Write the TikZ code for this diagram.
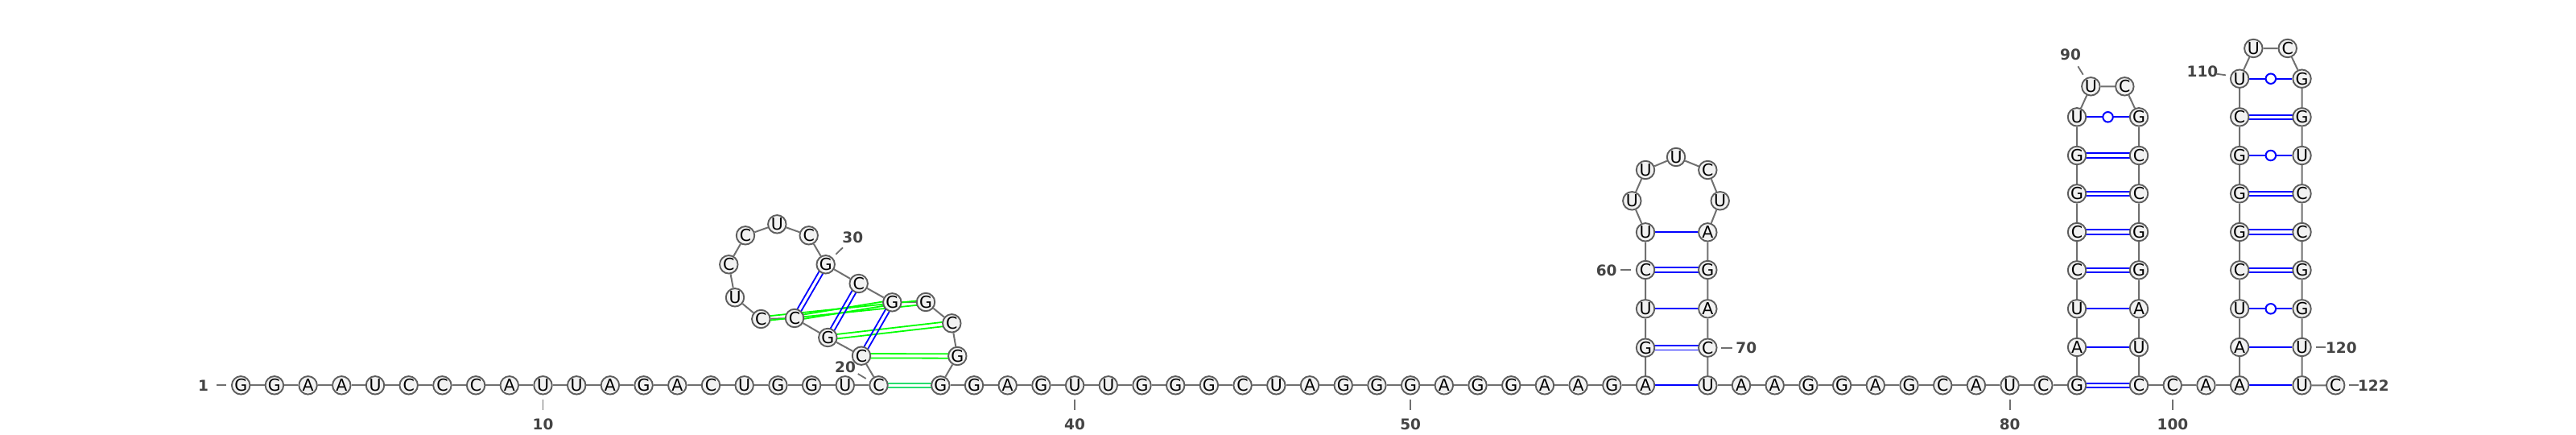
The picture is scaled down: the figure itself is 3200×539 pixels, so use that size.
\documentclass[tikz,border=0pt]{standalone}
\usepackage{fontspec}
\setmainfont{DejaVu Sans}
\newfontfamily\numfont{DejaVu Sans Bold}
\usetikzlibrary{calc}
\pgfdeclarelayer{bonds}
\pgfsetlayers{bonds,main}
\definecolor{basefill}{HTML}{F2F2F2}
\definecolor{baseline}{HTML}{5E5E5E}
\definecolor{backbone}{HTML}{707070}
\definecolor{numtext}{HTML}{444444}
\definecolor{pkgreen}{RGB}{0,255,0}
\definecolor{pkteal}{RGB}{40,220,110}
\tikzset{
	base/.style={circle,draw=baseline,fill=basefill,line width=1.9pt,minimum size=22.5pt,inner sep=0pt,font=\fontsize{20.5}{21}\selectfont},
	chain/.style={draw=backbone,line width=2pt},
	auline/.style={draw=blue,line width=2pt},
	wobble/.style={circle,draw=blue,fill=white,line width=2pt,minimum size=12.5pt,inner sep=0pt},
	num/.style={text=numtext,inner sep=0pt,font=\numfont\fontsize{18.5}{20}\selectfont},
	tick/.style={draw=backbone,line width=1.8pt},
}
\newcommand{\twolines}[3]{\draw[draw=#3,line width=1.8pt] ($(#1)!2.7pt!90:(#2)$)--($(#2)!2.7pt!-90:(#1)$); \draw[draw=#3,line width=1.8pt] ($(#1)!2.7pt!-90:(#2)$)--($(#2)!2.7pt!90:(#1)$);}

\begin{document}
\begin{tikzpicture}[x=1pt,y=-1pt]
	\useasboundingbox (0,0) rectangle (3200,539);
	% 5' strand up to the first loop
	\node[base] (n1) at (299.2,478.3) {G};
	\node[base] (n2) at (340.9,478.3) {G};
	\node[base] (n3) at (382.6,478.3) {A};
	\node[base] (n4) at (424.3,478.3) {A};
	\node[base] (n5) at (466,478.3) {U};
	\node[base] (n6) at (507.7,478.3) {C};
	\node[base] (n7) at (549.4,478.3) {C};
	\node[base] (n8) at (591.1,478.3) {C};
	\node[base] (n9) at (632.8,478.3) {A};
	\node[base] (n10) at (674.5,478.3) {U};
	\node[base] (n11) at (716.2,478.3) {U};
	\node[base] (n12) at (757.9,478.3) {A};
	\node[base] (n13) at (799.6,478.3) {G};
	\node[base] (n14) at (841.3,478.3) {A};
	\node[base] (n15) at (883,478.3) {C};
	\node[base] (n16) at (924.7,478.3) {U};
	\node[base] (n17) at (966.4,478.3) {G};
	\node[base] (n18) at (1008.1,478.3) {G};
	\node[base] (n19) at (1049.8,478.3) {U};
	\node[base] (n20) at (1091.5,478.3) {C};
	%
	\node[base] (n21) at (1070,441.7) {C};
	\node[base] (n22) at (1028.3,419) {G};
	\node[base] (n23) at (987,395) {C};
	\node[base] (n24) at (945.3,396) {C};
	\node[base] (n25) at (913,369.3) {U};
	\node[base] (n26) at (905.3,328.3) {C};
	\node[base] (n27) at (926,292.3) {C};
	\node[base] (n28) at (965.3,278.3) {U};
	\node[base] (n29) at (1004.7,292.3) {C};
	\node[base] (n30) at (1025.7,328.3) {G};
	\node[base] (n31) at (1066.7,352) {C};
	\node[base] (n32) at (1108.3,375.3) {G};
	\node[base] (n33) at (1150,375) {G};
	\node[base] (n34) at (1182.3,401.3) {C};
	\node[base] (n35) at (1189.3,442) {G};
	\node[base] (n36) at (1168.3,478.3) {G};
	%
	\node[base] (n37) at (1210,478.3) {G};
	\node[base] (n38) at (1251.7,478.3) {A};
	\node[base] (n39) at (1293.4,478.3) {G};
	\node[base] (n40) at (1335.1,478.3) {U};
	\node[base] (n41) at (1376.8,478.3) {U};
	\node[base] (n42) at (1418.5,478.3) {G};
	\node[base] (n43) at (1460.2,478.3) {G};
	\node[base] (n44) at (1501.9,478.3) {G};
	\node[base] (n45) at (1543.6,478.3) {C};
	\node[base] (n46) at (1585.3,478.3) {U};
	\node[base] (n47) at (1627,478.3) {A};
	\node[base] (n48) at (1668.7,478.3) {G};
	\node[base] (n49) at (1710.4,478.3) {G};
	\node[base] (n50) at (1752.1,478.3) {G};
	\node[base] (n51) at (1793.8,478.3) {A};
	\node[base] (n52) at (1835.5,478.3) {G};
	\node[base] (n53) at (1877.2,478.3) {G};
	\node[base] (n54) at (1918.9,478.3) {A};
	\node[base] (n55) at (1960.6,478.3) {A};
	\node[base] (n56) at (2002.3,478.3) {G};
	\node[base] (n57) at (2044,478.3) {A};
	%
	\node[base] (n58) at (2044,431.7) {G};
	\node[base] (n59) at (2044,383.3) {U};
	\node[base] (n60) at (2044,335) {C};
	\node[base] (n61) at (2044,288.3) {U};
	\node[base] (n62) at (2027.3,249.3) {U};
	\node[base] (n63) at (2044,211) {U};
	\node[base] (n64) at (2082,195) {U};
	\node[base] (n65) at (2121.3,211) {C};
	\node[base] (n66) at (2136.7,249.3) {U};
	\node[base] (n67) at (2121.3,288.3) {A};
	\node[base] (n68) at (2121.3,335) {G};
	\node[base] (n69) at (2121.3,383.3) {A};
	\node[base] (n70) at (2121.3,431.7) {C};
	\node[base] (n71) at (2121.3,478.3) {U};
	%
	\node[base] (n72) at (2163,478.3) {A};
	\node[base] (n73) at (2204.7,478.3) {A};
	\node[base] (n74) at (2246.4,478.3) {G};
	\node[base] (n75) at (2288.1,478.3) {G};
	\node[base] (n76) at (2329.8,478.3) {A};
	\node[base] (n77) at (2371.5,478.3) {G};
	\node[base] (n78) at (2413.2,478.3) {C};
	\node[base] (n79) at (2454.9,478.3) {A};
	\node[base] (n80) at (2496.6,478.3) {U};
	\node[base] (n81) at (2538.3,478.3) {C};
	\node[base] (n82) at (2580,478.3) {G};
	%
	\node[base] (n83) at (2580,431) {A};
	\node[base] (n84) at (2580,383.3) {U};
	\node[base] (n85) at (2580,335.3) {C};
	\node[base] (n86) at (2580,288) {C};
	\node[base] (n87) at (2580,240.3) {G};
	\node[base] (n88) at (2580,193) {G};
	\node[base] (n89) at (2580,145.3) {U};
	\node[base] (n90) at (2597.3,107.3) {U};
	\node[base] (n91) at (2639.3,107.3) {C};
	\node[base] (n92) at (2657,145.3) {G};
	\node[base] (n93) at (2657,193) {C};
	\node[base] (n94) at (2657,240.3) {C};
	\node[base] (n95) at (2657,288) {G};
	\node[base] (n96) at (2657,335.3) {G};
	\node[base] (n97) at (2657,383.3) {A};
	\node[base] (n98) at (2657,431) {U};
	\node[base] (n99) at (2657,478.3) {C};
	%
	\node[base] (n100) at (2698.7,478.3) {C};
	\node[base] (n101) at (2740.4,478.3) {A};
	\node[base] (n102) at (2782.1,478.3) {A};
	%
	\node[base] (n103) at (2782.1,431) {A};
	\node[base] (n104) at (2782.1,383.3) {U};
	\node[base] (n105) at (2782.1,335.3) {C};
	\node[base] (n106) at (2782.1,288) {G};
	\node[base] (n107) at (2782.1,240.3) {G};
	\node[base] (n108) at (2782.1,193) {G};
	\node[base] (n109) at (2782.1,145.3) {C};
	\node[base] (n110) at (2782.1,97.7) {U};
	\node[base] (n111) at (2799.3,60) {U};
	\node[base] (n112) at (2841.7,60) {C};
	\node[base] (n113) at (2859.5,97.7) {G};
	\node[base] (n114) at (2859.5,145.3) {G};
	\node[base] (n115) at (2859.5,193) {U};
	\node[base] (n116) at (2859.5,240.3) {C};
	\node[base] (n117) at (2859.5,288) {C};
	\node[base] (n118) at (2859.5,335.3) {G};
	\node[base] (n119) at (2859.5,383.3) {G};
	\node[base] (n120) at (2859.5,431) {U};
	\node[base] (n121) at (2859.5,478.3) {U};
	\node[base] (n122) at (2901.2,478.3) {C};
	%
	\begin{pgfonlayer}{bonds}
		\draw[chain] (n1)--(n2)--(n3)--(n4)--(n5)--(n6)--(n7)--(n8)--(n9)--(n10)--(n11)--(n12)--(n13)--(n14)--(n15)--(n16)--(n17)--(n18)--(n19)--(n20);
		\draw[chain] (n20)--(n21)--(n22)--(n23)--(n24)--(n25)--(n26)--(n27)--(n28)--(n29)--(n30)--(n31)--(n32)--(n33)--(n34)--(n35)--(n36);
		\draw[chain] (n36)--(n37)--(n38)--(n39)--(n40)--(n41)--(n42)--(n43)--(n44)--(n45)--(n46)--(n47)--(n48)--(n49)--(n50)--(n51)--(n52)--(n53)--(n54)--(n55)--(n56)--(n57);
		\draw[chain] (n57)--(n58)--(n59)--(n60)--(n61)--(n62)--(n63)--(n64)--(n65)--(n66)--(n67)--(n68)--(n69)--(n70)--(n71);
		\draw[chain] (n71)--(n72)--(n73)--(n74)--(n75)--(n76)--(n77)--(n78)--(n79)--(n80)--(n81)--(n82);
		\draw[chain] (n82)--(n83)--(n84)--(n85)--(n86)--(n87)--(n88)--(n89)--(n90)--(n91)--(n92)--(n93)--(n94)--(n95)--(n96)--(n97)--(n98)--(n99);
		\draw[chain] (n99)--(n100)--(n101)--(n102);
		\draw[chain] (n102)--(n103)--(n104)--(n105)--(n106)--(n107)--(n108)--(n109)--(n110)--(n111)--(n112)--(n113)--(n114)--(n115)--(n116)--(n117)--(n118)--(n119)--(n120)--(n121)--(n122);
		% knot
		\twolines{n20}{n36}{pkteal}
		\twolines{n21}{n35}{pkgreen}
		\twolines{n22}{n34}{pkgreen}
		\twolines{n23}{n32}{pkgreen}
		\twolines{n24}{n33}{pkgreen}
		\twolines{n21}{n32}{blue}
		\twolines{n22}{n31}{blue}
		\twolines{n23}{n30}{blue}
		% stems
		\draw[auline] (n57)--(n71);
		\twolines{n58}{n70}{blue}
		\draw[auline] (n59)--(n69);
		\twolines{n60}{n68}{blue}
		\draw[auline] (n61)--(n67);
		%
		\twolines{n82}{n99}{blue}
		\draw[auline] (n83)--(n98);
		\draw[auline] (n84)--(n97);
		\twolines{n85}{n96}{blue}
		\twolines{n86}{n95}{blue}
		\twolines{n87}{n94}{blue}
		\twolines{n88}{n93}{blue}
		\draw[auline] (n89)--(n92);
		%
		\draw[auline] (n102)--(n121);
		\draw[auline] (n103)--(n120);
		\draw[auline] (n104)--(n119);
		\twolines{n105}{n118}{blue}
		\twolines{n106}{n117}{blue}
		\twolines{n107}{n116}{blue}
		\draw[auline] (n108)--(n115);
		\twolines{n109}{n114}{blue}
		\draw[auline] (n110)--(n113);
	\end{pgfonlayer}
	%
	\node[wobble] (w89) at ($(n89)!0.5!(n92)$) {};
	\node[wobble] (w104) at ($(n104)!0.5!(n119)$) {};
	\node[wobble] (w108) at ($(n108)!0.5!(n115)$) {};
	\node[wobble] (w110) at ($(n110)!0.5!(n113)$) {};
	% numbers
	\node[num] (l1) at (252.5,479) {1};
	\coordinate (t1a) at (269,478.3); \coordinate (t1b) at (281,478.3); \draw[tick] (t1a)--(t1b);
	\node[num] (l10) at (674.5,527) {10};
	\coordinate (t10a) at (674.5,496); \coordinate (t10b) at (674.5,509); \draw[tick] (t10a)--(t10b);
	\node[num] (l20) at (1050,456) {20};
	\coordinate (t20a) at (1065.7,464); \coordinate (t20b) at (1075.7,470); \draw[tick] (t20a)--(t20b);
	\node[num] (l30) at (1059.3,295) {30};
	\coordinate (t30a) at (1047,307.3); \coordinate (t30b) at (1038.3,315.7); \draw[tick] (t30a)--(t30b);
	\node[num] (l40) at (1335.1,527) {40};
	\coordinate (t40a) at (1335.1,496); \coordinate (t40b) at (1335.1,509); \draw[tick] (t40a)--(t40b);
	\node[num] (l50) at (1752.1,527) {50};
	\coordinate (t50a) at (1752.1,496); \coordinate (t50b) at (1752.1,509); \draw[tick] (t50a)--(t50b);
	\node[num] (l60) at (1995.7,335.7) {60};
	\coordinate (t60a) at (2013.3,335); \coordinate (t60b) at (2026,335); \draw[tick] (t60a)--(t60b);
	\node[num] (l70) at (2169.3,431.7) {70};
	\coordinate (t70a) at (2138.3,431.7); \coordinate (t70b) at (2151.7,431.7); \draw[tick] (t70a)--(t70b);
	\node[num] (l80) at (2496.6,527) {80};
	\coordinate (t80a) at (2496.6,496); \coordinate (t80b) at (2496.6,509); \draw[tick] (t80a)--(t80b);
	\node[num] (l90) at (2572,67.7) {90};
	\coordinate (t90a) at (2581.3,82.3); \coordinate (t90b) at (2587.7,92.7); \draw[tick] (t90a)--(t90b);
	\node[num] (l100) at (2699,526.7) {100};
	\coordinate (t100a) at (2698.7,496); \coordinate (t100b) at (2698.7,509); \draw[tick] (t100a)--(t100b);
	\node[num] (l110) at (2736,88.3) {110};
	\coordinate (t110a) at (2753.3,91.7); \coordinate (t110b) at (2765,93.3); \draw[tick] (t110a)--(t110b);
	\node[num] (l120) at (2908.3,431.7) {120};
	\coordinate (t120a) at (2877,431); \coordinate (t120b) at (2889.3,431); \draw[tick] (t120a)--(t120b);
	\node[num] (l122) at (2948.3,478.3) {122};
	\coordinate (t122a) at (2918.3,478.3); \coordinate (t122b) at (2930,478.3); \draw[tick] (t122a)--(t122b);
\end{tikzpicture}
\end{document}
